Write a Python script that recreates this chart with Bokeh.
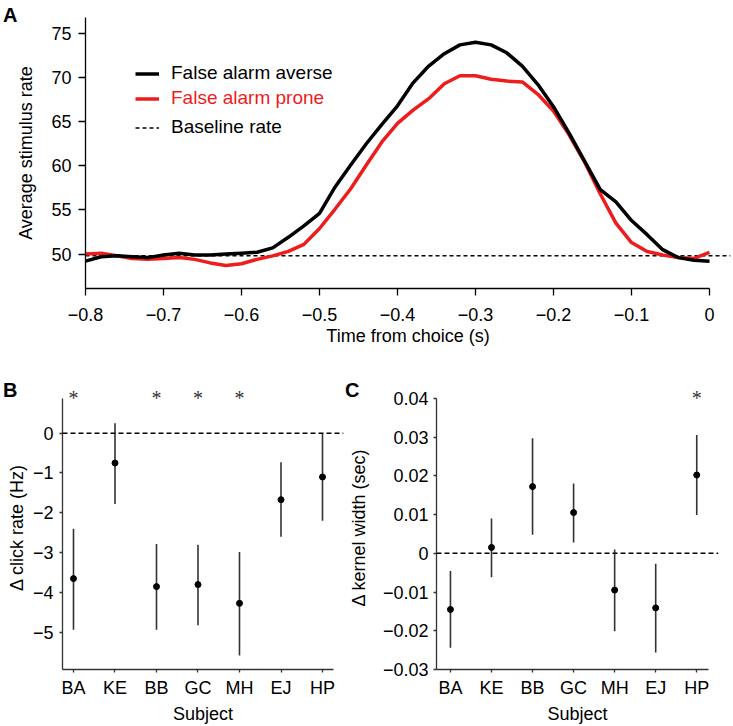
from bokeh.plotting import figure
from bokeh.layouts import GridBox, column, row
from bokeh.models import (Range1d, FixedTicker, Legend, LegendItem, Span,
                          ColumnDataSource, Div)
from bokeh.core.properties import value
from bokeh.embed import file_html
from bokeh.resources import INLINE

FONT = "Liberation Sans"
RED = "#ee1c1c"
GREY = "#333333"

# ---------------- Panel A data ----------------
time_s = [-0.80, -0.78, -0.76, -0.74, -0.72, -0.70, -0.68, -0.66, -0.64, -0.62,
          -0.60, -0.58, -0.56, -0.54, -0.52, -0.50, -0.48, -0.46, -0.44, -0.42,
          -0.40, -0.38, -0.36, -0.34, -0.32, -0.30, -0.28, -0.26, -0.24, -0.22,
          -0.20, -0.18, -0.16, -0.14, -0.12, -0.10, -0.08, -0.06, -0.04, -0.02, 0.00]
rate_averse = [49.2, 49.7, 49.8, 49.7, 49.6, 49.9, 50.1, 49.9, 49.9, 50.0,
               50.1, 50.2, 50.7, 51.9, 53.2, 54.6, 57.6, 60.1, 62.5, 64.7,
               66.8, 69.4, 71.3, 72.7, 73.7, 74.0, 73.7, 72.8, 71.3, 69.2,
               66.7, 63.7, 60.5, 57.3, 55.9, 53.8, 52.2, 50.5, 49.6, 49.3, 49.2]
rate_prone = [50.0, 50.1, 49.8, 49.5, 49.4, 49.5, 49.6, 49.4, 49.0, 48.7,
              48.9, 49.4, 49.8, 50.3, 51.1, 52.9, 55.1, 57.4, 60.1, 62.7,
              64.8, 66.3, 67.6, 69.3, 70.2, 70.2, 69.8, 69.6, 69.5, 68.1,
              66.2, 63.5, 60.4, 56.8, 53.5, 51.3, 50.3, 49.9, 49.6, 49.5, 50.2]
baseline_rate = 49.8
a_xticks = [-0.8, -0.7, -0.6, -0.5, -0.4, -0.3, -0.2, -0.1, 0.0]
a_xlabels = ["\u22120.8", "\u22120.7", "\u22120.6", "\u22120.5", "\u22120.4",
             "\u22120.3", "\u22120.2", "\u22120.1", "0"]
a_yticks = [50, 55, 60, 65, 70, 75]

# ---------------- Panels B / C data ----------------
subjects = ["BA", "KE", "BB", "GC", "MH", "EJ", "HP"]
click_mean = [-3.65, -0.75, -3.85, -3.80, -4.27, -1.67, -1.10]
click_lo = [-4.93, -1.78, -4.93, -4.82, -5.58, -2.60, -2.20]
click_hi = [-2.40, 0.25, -2.78, -2.80, -2.98, -0.73, -0.02]
click_sig = ["BA", "BB", "GC", "MH"]
b_yticks = [-5, -4, -3, -2, -1, 0]
b_ylabels = ["\u22125", "\u22124", "\u22123", "\u22122", "\u22121", "0"]

kernel_mean = [-0.0145, 0.0015, 0.0172, 0.0105, -0.0095, -0.0141, 0.0202]
kernel_lo = [-0.0244, -0.0062, 0.0048, 0.0028, -0.0201, -0.0256, 0.0099]
kernel_hi = [-0.0046, 0.0090, 0.0297, 0.0180, 0.0010, -0.0027, 0.0305]
kernel_sig = ["HP"]
c_yticks = [-0.03, -0.02, -0.01, 0.0, 0.01, 0.02, 0.03, 0.04]
c_ylabels = ["\u22120.03", "\u22120.02", "\u22120.01", "0", "0.01", "0.02", "0.03", "0.04"]


def style_axes(p, tick_out, axis_color, lw=1.3):
    for ax in (p.xaxis[0], p.yaxis[0]):
        ax.axis_line_color = axis_color
        ax.axis_line_width = lw
        ax.major_tick_line_color = axis_color
        ax.major_tick_line_width = lw
        ax.major_tick_out = tick_out
        ax.major_tick_in = 0
        ax.minor_tick_line_color = None
        ax.major_label_text_font = FONT
        ax.major_label_text_font_size = "18px"
        ax.major_label_text_color = "black"
        ax.axis_label_text_font = FONT
        ax.axis_label_text_font_size = "18px"
        ax.axis_label_text_font_style = "normal"
        ax.axis_label_text_color = "black"
    p.xgrid.grid_line_color = None
    p.ygrid.grid_line_color = None
    p.outline_line_color = None
    p.background_fill_color = "white"
    p.border_fill_color = "white"


def with_letter(p, txt, top, left):
    d = Div(text=txt, width=22, height=24, margin=(top, 0, 0, left),
            styles={"font-family": FONT, "font-weight": "bold", "font-size": "20px",
                    "line-height": "20px", "color": "black"})
    return GridBox(children=[(p, 0, 0), (d, 0, 0)])


# ---------------- Panel A ----------------
pA = figure(width=733, height=354, output_backend="svg", toolbar_location=None,
            x_range=Range1d(-0.8, 0.0269), y_range=Range1d(46.1, 76.8),
            min_border_left=85, min_border_right=3, min_border_top=17, min_border_bottom=66,
            x_axis_label="Time from choice (s)", y_axis_label="Average stimulus rate")
style_axes(pA, 7, "black")
pA.xaxis[0].ticker = FixedTicker(ticks=a_xticks)
pA.xaxis[0].major_label_overrides = dict(zip(a_xticks, a_xlabels))
pA.xaxis[0].bounds = (a_xticks[0], a_xticks[-1])
pA.xaxis[0].major_label_standoff = 12
pA.xaxis[0].axis_label_standoff = 2
pA.yaxis[0].ticker = FixedTicker(ticks=a_yticks)
pA.yaxis[0].major_label_standoff = 7
pA.yaxis[0].axis_label_standoff = 12

r_base = pA.line(x=[pA.x_range.start, pA.x_range.end], y=[baseline_rate, baseline_rate],
                 line_color="black", line_width=1.5, line_dash="4 3")
r_prone = pA.line(x=time_s, y=rate_prone, line_color=RED, line_width=3.5)
r_averse = pA.line(x=time_s, y=rate_averse, line_color="black", line_width=3.5)

for rend, lab, col, yloc in [(r_averse, "False alarm averse", "black", 204),
                             (r_prone, "False alarm prone", RED, 179),
                             (r_base, "Baseline rate", "black", 150)]:
    leg = Legend(items=[LegendItem(label=lab, renderers=[rend])], location=(50, yloc),
                 padding=0, margin=0, border_line_alpha=0, background_fill_alpha=0,
                 glyph_width=24, glyph_height=21, label_height=21, label_standoff=12,
                 label_text_font=FONT, label_text_font_size="19px", label_text_color=col)
    pA.add_layout(leg)


# ---------------- Panels B / C ----------------
def subject_panel(width, border_left, border_right, x_start, x_end, axis_end,
                  y_start, y_end, axis_top, means, lo, hi, sig,
                  yticks, ylabels, ylabel, ytick_standoff, ylabel_standoff):
    p = figure(width=width, height=372, output_backend="svg", toolbar_location=None,
               x_range=Range1d(x_start, x_end), y_range=Range1d(y_start, y_end),
               min_border_left=border_left, min_border_right=border_right,
               min_border_top=31, min_border_bottom=56,
               x_axis_label="Subject", y_axis_label=ylabel)
    style_axes(p, 3, GREY)
    idx = list(range(len(subjects)))
    p.xaxis[0].ticker = FixedTicker(ticks=idx)
    p.xaxis[0].major_label_overrides = dict(zip(idx, subjects))
    p.xaxis[0].bounds = (x_start, axis_end)
    p.xaxis[0].major_label_standoff = 5
    p.xaxis[0].axis_label_standoff = 3
    p.yaxis[0].ticker = FixedTicker(ticks=yticks)
    p.yaxis[0].major_label_overrides = dict(zip(yticks, ylabels))
    p.yaxis[0].bounds = (y_start, axis_top)
    p.yaxis[0].major_label_standoff = ytick_standoff
    p.yaxis[0].axis_label_standoff = ylabel_standoff
    p.add_layout(Span(location=0, dimension="width", line_color="black",
                      line_width=1.5, line_dash="5 3"))
    src = ColumnDataSource(dict(x=idx, m=means, lo=lo, hi=hi))
    p.segment(x0="x", y0="lo", x1="x", y1="hi", source=src, line_color=GREY, line_width=1.6)
    p.scatter(x="x", y="m", source=src, size=6, color="black")
    sig_src = ColumnDataSource(dict(x=[subjects.index(s) for s in sig],
                                    y=[axis_top] * len(sig), t=["*"] * len(sig)))
    p.text(x="x", y="y", text="t", source=sig_src, text_align="center",
           text_baseline="middle", text_font=value("Liberation Serif"),
           text_font_size="20px", text_color="#333333")
    return p


pB = subject_panel(345, 62, 2, -0.265, 6.506, 6.265, -5.93, 1.195, 0.87,
                   click_mean, click_lo, click_hi, click_sig, b_yticks, b_ylabels,
                   "\u0394 click rate (Hz)", 6, 3)
pC = subject_panel(388, 89, 15, -0.34, 6.53, 6.29, -0.03, 0.0433, 0.04,
                   kernel_mean, kernel_lo, kernel_hi, kernel_sig, c_yticks, c_ylabels,
                   "\u0394 kernel width (sec)", 5, 11)

layout = column(with_letter(pA, "A", 5, 3),
                row(with_letter(pB, "B", 26, 3), with_letter(pC, "C", 26, 0)))
open("out.html", "w").write(file_html(layout, INLINE))
